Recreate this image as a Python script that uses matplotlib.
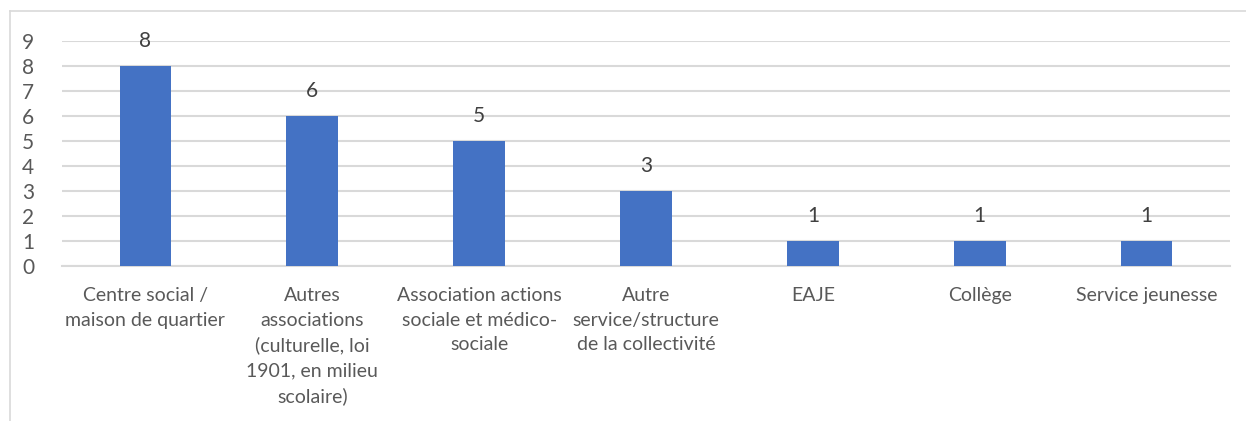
import matplotlib
matplotlib.use("Agg")
import matplotlib.pyplot as plt
from matplotlib.lines import Line2D

categories = ["Centre social /\nmaison de quartier",
              "Autres\nassociations\n(culturelle, loi\n1901, en milieu\nscolaire)",
              "Association actions\nsociale et médico-\nsociale",
              "Autre\nservice/structure\nde la collectivité",
              "EAJE", "Collège", "Service jeunesse"]
values = [8, 6, 5, 3, 1, 1, 1]
yticks = list(range(0, 10))

plt.rcParams['font.family'] = ['Lato', 'DejaVu Sans']
W, H = 1246, 421
fig = plt.figure(figsize=(W/100, H/100), dpi=100)
ax = fig.add_axes([62/W, 1-266/H, (1230-62)/W, (266-41)/H])

x = list(range(len(categories)))
bars = ax.bar(x, values, width=0.31, color='#4472C4', zorder=3)
ax.set_xlim(-0.5, len(categories)-0.5)
ax.set_ylim(0, 9)
ax.set_yticks(yticks)
ax.yaxis.grid(True, color='#D9D9D9', linewidth=1.5, zorder=0)
for s in ['top', 'right', 'left']:
    ax.spines[s].set_visible(False)
ax.spines['bottom'].set_color('#D9D9D9')
ax.spines['bottom'].set_linewidth(1.5)
ax.tick_params(axis='both', length=0, colors='#595959')
ax.tick_params(axis='y', labelsize=15, pad=20)
ax.set_xticks(x)
ax.set_xticklabels(categories, fontsize=14, linespacing=1.55, color='#595959')
ax.tick_params(axis='x', pad=15)
for b, v in zip(bars, values):
    ax.annotate(str(v), (b.get_x()+b.get_width()/2, v), xytext=(0, 18),
                textcoords='offset points', ha='center', va='center',
                fontsize=15, color='#404040')

fig.add_artist(Line2D([10/W, 1], [1-11/H, 1-11/H], color='#D9D9D9', linewidth=1.2))
fig.add_artist(Line2D([10/W, 10/W], [0, 1-11/H], color='#D9D9D9', linewidth=1.2))
fig.savefig('out.png', dpi=100)
